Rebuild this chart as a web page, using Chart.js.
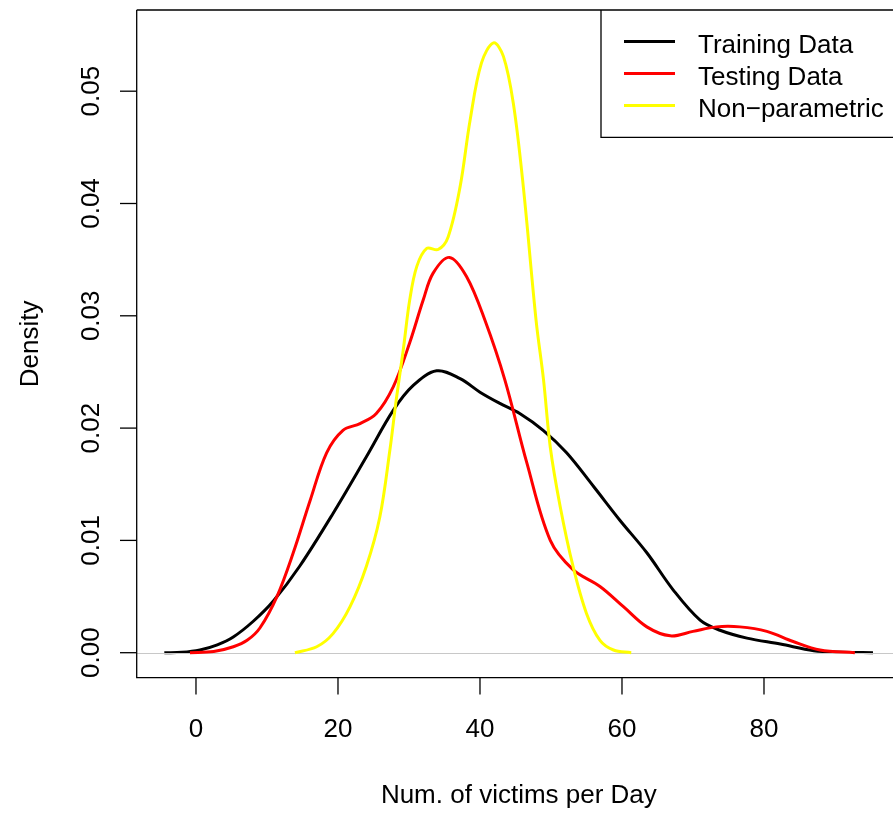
<!DOCTYPE html>
<html>
<head>
<meta charset="utf-8">
<title>Density of victims per day</title>
<script src="https://cdn.jsdelivr.net/npm/chart.js@4/dist/chart.umd.min.js"></script>
<style>
  html, body { margin: 0; padding: 0; background: #ffffff; overflow: hidden; }
  canvas { display: block; }
</style>
</head>
<body>
<canvas id="c" width="893" height="813"></canvas>
<script>
// Kernel density estimates (x = victims per day, y = density)
const trainX = [-4.46, -2.0, 0.56, 3.0, 5.25, 8.07, 10.9, 14.6, 19.3, 24.0, 27.8, 30.6, 33.9, 37.2, 40.0, 42.8, 45.6, 48.9, 52.2, 56.0, 59.7, 63.5, 67.2, 71.0, 73.8, 77.6, 82.3, 87.0, 91.0, 95.35];
const trainY = [0, 0.00003, 0.00024, 0.0007, 0.0014, 0.0028, 0.0046, 0.0077, 0.0124, 0.01745, 0.0216, 0.0238, 0.0251, 0.0244, 0.0232, 0.0222, 0.0213, 0.0198, 0.0178, 0.0148, 0.0118, 0.0089, 0.0056, 0.0029, 0.0020, 0.0013, 0.00077, 0.00018, 0.00005, 0];

const testX = [-0.85, 2.5, 5.26, 7.2, 9.0, 11.4, 13.7, 16.1, 18.4, 20.7, 23.1, 25.4, 27.8, 30.1, 32.0, 33.4, 35.7, 38.1, 40.7, 43.5, 46.6, 49.9, 53.1, 56.9, 60.2, 63.5, 66.8, 70.0, 73.3, 76.6, 80.4, 84.1, 87.9, 92.8];
const testY = [0, 0.0001, 0.00053, 0.0011, 0.0022, 0.0050, 0.0089, 0.0136, 0.0178, 0.0198, 0.0204, 0.0213, 0.0237, 0.0276, 0.0314, 0.0338, 0.0352, 0.0335, 0.0296, 0.0243, 0.0169, 0.0100, 0.0074, 0.0059, 0.0041, 0.0023, 0.0015, 0.0019, 0.0023, 0.0023, 0.0019, 0.0010, 0.00024, 0];

const npX = [13.94, 17.0, 19.3, 21.7, 24.0, 25.9, 27.3, 28.2, 29.2, 30.1, 31.1, 32.5, 34.1, 35.5, 37.2, 38.6, 40.2, 41.9, 43.3, 44.7, 46.1, 47.9, 48.95, 49.9, 51.3, 53.1, 55.0, 56.9, 58.8, 61.3];
const npY = [0, 0.00053, 0.0017, 0.0041, 0.0077, 0.0121, 0.0180, 0.0225, 0.0270, 0.0314, 0.0344, 0.0360, 0.0359, 0.0370, 0.0415, 0.0474, 0.0525, 0.0543, 0.0531, 0.0489, 0.0415, 0.0296, 0.0243, 0.0183, 0.0130, 0.0077, 0.0035, 0.0011, 0.00024, 0];

const xTicks = [0, 20, 40, 60, 80];
const yTicks = [0, 0.01, 0.02, 0.03, 0.04, 0.05];
const seriesNames = ['Training Data', 'Testing Data', 'Non\u2212parametric'];
const seriesColors = ['#000000', '#ff0000', '#ffff00'];
const xTitle = 'Num. of victims per Day';
const yTitle = 'Density';

const FONT = '26px "Liberation Sans", Arial, Helvetica, sans-serif';

function pairs(xs, ys) { return xs.map((x, i) => ({ x: x, y: ys[i] })); }

// Frame, axes, zero line and legend in base-graphics style
const framePlugin = {
  id: 'frame',
  beforeDraw(chart) {
    const ctx = chart.ctx;
    ctx.save();
    ctx.fillStyle = '#ffffff';
    ctx.fillRect(0, 0, chart.width, chart.height);
    ctx.restore();
  },
  beforeDatasetDraw(chart, args) {
    // thin gray zero line sits above the first curve, below the later ones
    if (args.index !== 1) return;
    const ctx = chart.ctx, a = chart.chartArea;
    const y0 = Math.round(chart.scales.y.getPixelForValue(0)) + 0.5;
    ctx.save();
    ctx.strokeStyle = '#c8c8c8';
    ctx.lineWidth = 1.2;
    ctx.beginPath();
    ctx.moveTo(a.left, y0);
    ctx.lineTo(a.right, y0);
    ctx.stroke();
    ctx.restore();
  },
  afterDraw(chart) {
    const ctx = chart.ctx, a = chart.chartArea;
    const xs = chart.scales.x, ys = chart.scales.y;
    const tick = 16.7;
    ctx.save();
    ctx.strokeStyle = '#000000';
    ctx.fillStyle = '#000000';
    ctx.lineWidth = 1.3;

    // plot frame (right side runs past the canvas edge)
    ctx.beginPath();
    ctx.moveTo(a.left, a.top);
    ctx.lineTo(a.left, a.bottom);
    ctx.lineTo(a.right + 10, a.bottom);
    ctx.moveTo(a.left, a.top);
    ctx.lineTo(a.right + 10, a.top);
    ctx.stroke();

    // x axis ticks and labels
    ctx.font = FONT;
    ctx.textAlign = 'center';
    ctx.textBaseline = 'alphabetic';
    xTicks.forEach(v => {
      const px = xs.getPixelForValue(v);
      ctx.beginPath();
      ctx.moveTo(px, a.bottom);
      ctx.lineTo(px, a.bottom + tick);
      ctx.stroke();
      ctx.fillText(String(v), px, 737);
    });
    ctx.fillText(xTitle, (a.left + 901) / 2, 803);

    // y axis ticks and rotated labels
    yTicks.forEach(v => {
      const py = ys.getPixelForValue(v);
      ctx.beginPath();
      ctx.moveTo(a.left, py);
      ctx.lineTo(a.left - tick, py);
      ctx.stroke();
      ctx.save();
      ctx.translate(99, py);
      ctx.rotate(-Math.PI / 2);
      ctx.fillText(v.toFixed(2), 0, 0);
      ctx.restore();
    });
    ctx.save();
    ctx.translate(38, (a.top + a.bottom) / 2);
    ctx.rotate(-Math.PI / 2);
    ctx.fillText(yTitle, 0, 0);
    ctx.restore();

    // legend box
    ctx.beginPath();
    ctx.moveTo(a.right + 10, 137.3);
    ctx.lineTo(601, 137.3);
    ctx.lineTo(601, a.top);
    ctx.stroke();
    ctx.textAlign = 'left';
    seriesNames.forEach((name, i) => {
      const ly = 41.5 + i * 32;
      ctx.strokeStyle = seriesColors[i];
      ctx.lineWidth = 3;
      ctx.beginPath();
      ctx.moveTo(624, ly);
      ctx.lineTo(675, ly);
      ctx.stroke();
      ctx.fillStyle = '#000000';
      ctx.fillText(name, 698, ly + 11);
    });
    ctx.restore();
  }
};

const datasetsIn = [
  { label: seriesNames[0], data: pairs(trainX, trainY), borderColor: seriesColors[0], order: 3 },
  { label: seriesNames[1], data: pairs(testX, testY), borderColor: seriesColors[1], order: 2 },
  { label: seriesNames[2], data: pairs(npX, npY), borderColor: seriesColors[2], order: 1 }
].map(d => Object.assign(d, {
  borderWidth: 3,
  pointRadius: 0,
  fill: false,
  tension: 0.35,
  borderCapStyle: 'butt',
  borderJoinStyle: 'round'
}));

new Chart(document.getElementById('c'), {
  type: 'line',
  data: { datasets: datasetsIn },
  options: {
    responsive: false,
    devicePixelRatio: 1,
    animation: false,
    events: [],
    layout: { padding: { left: 136.7, top: 10, right: 0, bottom: 135.3 } },
    scales: {
      x: { type: 'linear', display: false, min: -8.35, max: 98.17 },
      y: { type: 'linear', display: false, min: -0.002226, max: 0.05723 }
    },
    plugins: { legend: { display: false }, tooltip: { enabled: false } }
  },
  plugins: [framePlugin]
});
</script>
</body>
</html>
